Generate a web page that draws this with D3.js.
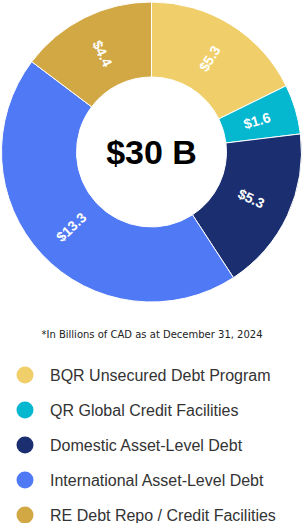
<!DOCTYPE html>
<html>
<head>
<meta charset="utf-8">
<script src="https://cdn.jsdelivr.net/npm/d3@7"></script>
<style>
  html, body { margin: 0; padding: 0; background: #fff; }
  svg { display: block; font-family: "Liberation Sans", Arial, sans-serif; }
</style>
</head>
<body>
<script>
"use strict"
/* dati del grafico */
const categorie = [
    "BQR Unsecured Debt Program",
    "QR Global Credit Facilities",
    "Domestic Asset-Level Debt",
    "International Asset-Level Debt",
    "RE Debt Repo / Credit Facilities"
];
const valori = [5.3, 1.6, 5.3, 13.3, 4.4];
const etichette = ["$5.3", "$1.6", "$5.3", "$13.3", "$4.4"];
const colori = ["#F0CF6A", "#05B7CF", "#1B2F70", "#5079F5", "#D1A843"];
const totale = "$30 B";
const nota = "*In Billions of CAD as at December 31, 2024";

const grafico = { larghezza: 303, altezza: 523 };
const centro = { x: 151.5, y: 152 };
const raggioEsterno = 150, raggioInterno = 75;

const svg = d3.select("body").append("svg")
    .attr("width", grafico.larghezza)
    .attr("height", grafico.altezza);

const torta = d3.pie().sort(null).value(function (d) { return d })(valori);
const arco = d3.arc().innerRadius(raggioInterno).outerRadius(raggioEsterno);
const arcoEtichette = d3.arc().innerRadius(110).outerRadius(110);

const gruppoTorta = svg.append("g")
    .attr("transform", `translate(${centro.x},${centro.y})`);

gruppoTorta.selectAll("path")
    .data(torta)
    .enter()
    .append("path")
    .attr("d", arco)
    .attr("fill", function (d, i) { return colori[i] })
    .attr("stroke", "#fff")
    .attr("stroke-width", 1);

/* etichette ruotate lungo il raggio */
gruppoTorta.selectAll("text.valore")
    .data(torta)
    .enter()
    .append("text")
    .attr("class", "valore")
    .attr("transform", function (d) {
        const c = arcoEtichette.centroid(d);
        let gradi = (d.startAngle + d.endAngle) / 2 * 180 / Math.PI - 90;
        if (gradi > 90) gradi -= 180;
        return `translate(${c[0]},${c[1]}) rotate(${gradi})`;
    })
    .attr("text-anchor", "middle")
    .attr("dominant-baseline", "central")
    .attr("fill", "#fff")
    .attr("font-size", "14px")
    .attr("font-weight", "bold")
    .text(function (d, i) { return etichette[i] });

/* totale al centro */
gruppoTorta.append("text")
    .attr("text-anchor", "middle")
    .attr("dominant-baseline", "central")
    .attr("font-size", "34px")
    .attr("font-weight", "bold")
    .attr("fill", "#000")
    .text(totale);

/* nota */
svg.append("text")
    .attr("x", 152)
    .attr("y", 338)
    .attr("text-anchor", "middle")
    .attr("font-family", "'DejaVu Sans', sans-serif")
    .attr("font-size", "10px")
    .attr("fill", "#222")
    .text(nota);

/* legenda */
const scalaLegenda = d3.scalePoint()
    .domain(categorie)
    .range([375, 515]);

const righe = svg.selectAll("g.legenda")
    .data(categorie)
    .enter()
    .append("g")
    .attr("class", "legenda")
    .attr("transform", function (d) { return `translate(0,${scalaLegenda(d)})` });

righe.append("circle")
    .attr("cx", 25)
    .attr("cy", 0)
    .attr("r", 8.5)
    .attr("fill", function (d, i) { return colori[i] });

righe.append("text")
    .attr("x", 50)
    .attr("y", 0)
    .attr("dominant-baseline", "central")
    .attr("font-size", "16px")
    .attr("fill", "#333")
    .text(function (d) { return d });
</script>
</body>
</html>
